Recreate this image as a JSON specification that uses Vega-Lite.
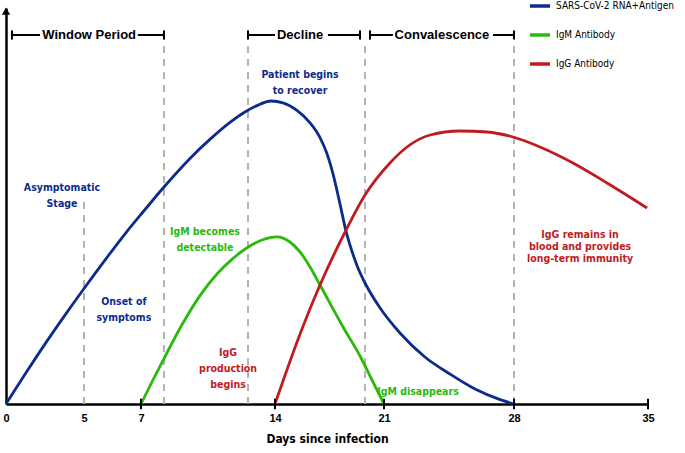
{
  "$schema": "https://vega.github.io/schema/vega-lite/v6.json",
  "width": 642,
  "height": 396,
  "autosize": {"type": "none"},
  "padding": {"left": 6, "top": 8, "right": 37, "bottom": 49},
  "background": "white",
  "config": {"view": {"stroke": null}},
  "datasets": {
    "curves": [
      {"series": "SARS-CoV-2 RNA+Antigen", "day": 0, "value": 0},
      {"series": "SARS-CoV-2 RNA+Antigen", "day": 1.28, "value": 7.8},
      {"series": "SARS-CoV-2 RNA+Antigen", "day": 2.56, "value": 15.35},
      {"series": "SARS-CoV-2 RNA+Antigen", "day": 3.85, "value": 22.6},
      {"series": "SARS-CoV-2 RNA+Antigen", "day": 5.04, "value": 29.25},
      {"series": "SARS-CoV-2 RNA+Antigen", "day": 5.77, "value": 36.3},
      {"series": "SARS-CoV-2 RNA+Antigen", "day": 6.47, "value": 42.8},
      {"series": "SARS-CoV-2 RNA+Antigen", "day": 7, "value": 47.4},
      {"series": "SARS-CoV-2 RNA+Antigen", "day": 8.2, "value": 54.25},
      {"series": "SARS-CoV-2 RNA+Antigen", "day": 9.56, "value": 61.4},
      {"series": "SARS-CoV-2 RNA+Antigen", "day": 10.6, "value": 66.15},
      {"series": "SARS-CoV-2 RNA+Antigen", "day": 11.65, "value": 70.4},
      {"series": "SARS-CoV-2 RNA+Antigen", "day": 12.43, "value": 73.0},
      {"series": "SARS-CoV-2 RNA+Antigen", "day": 13.06, "value": 74.6},
      {"series": "SARS-CoV-2 RNA+Antigen", "day": 13.79, "value": 75.75},
      {"series": "SARS-CoV-2 RNA+Antigen", "day": 14.51, "value": 75.3},
      {"series": "SARS-CoV-2 RNA+Antigen", "day": 15.41, "value": 73.4},
      {"series": "SARS-CoV-2 RNA+Antigen", "day": 16.25, "value": 70.3},
      {"series": "SARS-CoV-2 RNA+Antigen", "day": 16.89, "value": 66.6},
      {"series": "SARS-CoV-2 RNA+Antigen", "day": 17.34, "value": 62.55},
      {"series": "SARS-CoV-2 RNA+Antigen", "day": 17.72, "value": 57.6},
      {"series": "SARS-CoV-2 RNA+Antigen", "day": 18.17, "value": 50.1},
      {"series": "SARS-CoV-2 RNA+Antigen", "day": 18.56, "value": 43.2},
      {"series": "SARS-CoV-2 RNA+Antigen", "day": 18.94, "value": 38.2},
      {"series": "SARS-CoV-2 RNA+Antigen", "day": 19.33, "value": 34},
      {"series": "SARS-CoV-2 RNA+Antigen", "day": 19.78, "value": 30.25},
      {"series": "SARS-CoV-2 RNA+Antigen", "day": 20.75, "value": 24.0},
      {"series": "SARS-CoV-2 RNA+Antigen", "day": 21.86, "value": 17.75},
      {"series": "SARS-CoV-2 RNA+Antigen", "day": 23.2, "value": 11.75},
      {"series": "SARS-CoV-2 RNA+Antigen", "day": 24.55, "value": 7.5},
      {"series": "SARS-CoV-2 RNA+Antigen", "day": 25.9, "value": 3.75},
      {"series": "SARS-CoV-2 RNA+Antigen", "day": 27.25, "value": 1.1},
      {"series": "SARS-CoV-2 RNA+Antigen", "day": 28, "value": 0},
      {"series": "IgM Antibody", "day": 7, "value": 0},
      {"series": "IgM Antibody", "day": 7.57, "value": 5.5},
      {"series": "IgM Antibody", "day": 8.2, "value": 11.35},
      {"series": "IgM Antibody", "day": 9.14, "value": 19.8},
      {"series": "IgM Antibody", "day": 10.08, "value": 27.1},
      {"series": "IgM Antibody", "day": 10.97, "value": 32.5},
      {"series": "IgM Antibody", "day": 11.81, "value": 36.4},
      {"series": "IgM Antibody", "day": 12.54, "value": 39.05},
      {"series": "IgM Antibody", "day": 13.32, "value": 41.0},
      {"series": "IgM Antibody", "day": 14.13, "value": 41.8},
      {"series": "IgM Antibody", "day": 14.96, "value": 40.5},
      {"series": "IgM Antibody", "day": 15.61, "value": 38},
      {"series": "IgM Antibody", "day": 16.25, "value": 34.25},
      {"series": "IgM Antibody", "day": 16.89, "value": 29.75},
      {"series": "IgM Antibody", "day": 18.37, "value": 19.25},
      {"series": "IgM Antibody", "day": 19.46, "value": 12},
      {"series": "IgM Antibody", "day": 20.23, "value": 6},
      {"series": "IgM Antibody", "day": 21, "value": 0},
      {"series": "IgG Antibody", "day": 14, "value": 0},
      {"series": "IgG Antibody", "day": 15.61, "value": 17.5},
      {"series": "IgG Antibody", "day": 16.89, "value": 29.75},
      {"series": "IgG Antibody", "day": 18.5, "value": 43},
      {"series": "IgG Antibody", "day": 19.78, "value": 52.25},
      {"series": "IgG Antibody", "day": 21.32, "value": 60.25},
      {"series": "IgG Antibody", "day": 22.24, "value": 64.25},
      {"series": "IgG Antibody", "day": 23.48, "value": 67.25},
      {"series": "IgG Antibody", "day": 25.09, "value": 68.25},
      {"series": "IgG Antibody", "day": 26.55, "value": 68},
      {"series": "IgG Antibody", "day": 27.95, "value": 66.75},
      {"series": "IgG Antibody", "day": 29.36, "value": 64.25},
      {"series": "IgG Antibody", "day": 31.08, "value": 60.25},
      {"series": "IgG Antibody", "day": 32.86, "value": 55.25},
      {"series": "IgG Antibody", "day": 34.95, "value": 49}
    ],
    "vlines": [
      {"day": 5, "lo": 0, "hi": 51},
      {"day": 8.2, "lo": 0, "hi": 89.75},
      {"day": 12.59, "lo": 0, "hi": 89.75},
      {"day": 19.78, "lo": 0, "hi": 89.75},
      {"day": 28, "lo": 0, "hi": 89.75}
    ],
    "hsegs": [
      {"from": 0.38, "to": 2.18, "level": 92.25},
      {"from": 6.89, "to": 8.2, "level": 92.25},
      {"from": 12.59, "to": 14.0, "level": 92.25},
      {"from": 17.4, "to": 19.46, "level": 92.25},
      {"from": 20.1, "to": 21.48, "level": 92.25},
      {"from": 26.87, "to": 28, "level": 92.25}
    ],
    "bticks": [
      {"day": 0.38, "lo": 91.1, "hi": 93.4},
      {"day": 8.2, "lo": 91.1, "hi": 93.4},
      {"day": 12.59, "lo": 91.1, "hi": 93.4},
      {"day": 19.46, "lo": 91.1, "hi": 93.4},
      {"day": 20.1, "lo": 91.1, "hi": 93.4},
      {"day": 28, "lo": 91.1, "hi": 93.4},
      {"day": 7, "lo": -1.3, "hi": 1.3},
      {"day": 14, "lo": -1.3, "hi": 1.3},
      {"day": 21, "lo": -1.3, "hi": 1.3},
      {"day": 28, "lo": -1.3, "hi": 1.3},
      {"day": 35, "lo": -1.3, "hi": 1.3}
    ],
    "phases": [
      {"label": "Window Period", "day": 5.18, "value": 92.25},
      {"label": "Decline", "day": 15.61, "value": 92.25},
      {"label": "Convalescence", "day": 24.12, "value": 92.25}
    ],
    "notes": [
      {"label": "Patient begins\nto recover", "series": "SARS-CoV-2 RNA+Antigen", "day": 15.61, "value": 82.25},
      {"label": "Asymptomatic\nStage", "series": "SARS-CoV-2 RNA+Antigen", "day": 3.59, "value": 54},
      {"label": "Onset of\nsymptoms", "series": "SARS-CoV-2 RNA+Antigen", "day": 6.4, "value": 25.5},
      {"label": "IgM becomes\ndetectable", "series": "IgM Antibody", "day": 10.34, "value": 43},
      {"label": "IgG\nproduction\nbegins", "series": "IgG Antibody", "day": 11.55, "value": 12.75},
      {"label": "IgM disappears", "series": "IgM Antibody", "day": 22.83, "value": 3}
    ],
    "notes2": [
      {"label": "IgG remains in\nblood and provides\nlong-term immunity", "series": "IgG Antibody", "day": 31.45, "value": 42.25}
    ],
    "arrow": [{"day": 0, "value": 98.2}]
  },
  "layer": [
    {
      "data": {"name": "vlines"},
      "mark": {"type": "rule", "color": "#b3b3b3", "strokeWidth": 2, "strokeDash": [7, 6]},
      "encoding": {
        "x": {"field": "day", "type": "quantitative"},
        "y": {"field": "lo", "type": "quantitative"},
        "y2": {"field": "hi"}
      }
    },
    {
      "data": {"name": "curves"},
      "mark": {"type": "line", "interpolate": "monotone", "strokeWidth": 2.8},
      "encoding": {
        "x": {
          "field": "day",
          "type": "quantitative",
          "scale": {"domain": [0, 5, 7, 14, 21, 28, 35], "range": [0, 78, 135, 269, 378, 508, 642], "zero": false, "nice": false},
          "axis": {
            "values": [0, 5, 7, 14, 21, 28, 35],
            "title": "Days since infection",
            "grid": false,
            "ticks": false,
            "domainColor": "black",
            "domainWidth": 2.5,
            "labelFont": "Liberation Sans",
            "labelFontWeight": "bold",
            "labelFontSize": 11,
            "labelColor": "black",
            "labelPadding": 8,
            "labelFlush": false,
            "titleFont": "DejaVu Sans Condensed, Liberation Sans, sans-serif",
            "titleFontWeight": "bold",
            "titleFontSize": 12,
            "titleColor": "black",
            "titlePadding": 10
          }
        },
        "y": {
          "field": "value",
          "type": "quantitative",
          "scale": {"domain": [0, 99], "nice": false},
          "axis": {"title": null, "labels": false, "ticks": false, "grid": false, "domainColor": "black", "domainWidth": 2.5}
        },
        "color": {
          "field": "series",
          "type": "nominal",
          "scale": {
            "domain": ["SARS-CoV-2 RNA+Antigen", "IgM Antibody", "IgG Antibody"],
            "range": ["#0c2c8c", "#2cb80c", "#c01b1f"]
          },
          "legend": {
            "title": null,
            "orient": "none",
            "legendX": 522,
            "legendY": -14,
            "symbolType": "stroke",
            "symbolSize": 400,
            "symbolStrokeWidth": 3.5,
            "rowPadding": 10,
            "labelFont": "DejaVu Sans Condensed, Liberation Sans, sans-serif",
            "labelFontSize": 10,
            "labelColor": "black",
            "labelOffset": 4,
            "labelLimit": 300
          }
        }
      }
    },
    {
      "data": {"name": "hsegs"},
      "mark": {"type": "rule", "color": "black", "strokeWidth": 2},
      "encoding": {
        "x": {"field": "from", "type": "quantitative"},
        "x2": {"field": "to"},
        "y": {"field": "level", "type": "quantitative"}
      }
    },
    {
      "data": {"name": "bticks"},
      "mark": {"type": "rule", "color": "black", "strokeWidth": 2},
      "encoding": {
        "x": {"field": "day", "type": "quantitative"},
        "y": {"field": "lo", "type": "quantitative"},
        "y2": {"field": "hi"}
      }
    },
    {
      "data": {"name": "arrow"},
      "mark": {"type": "point", "shape": "triangle-up", "filled": true, "color": "black", "size": 70, "opacity": 1},
      "encoding": {
        "x": {"field": "day", "type": "quantitative"},
        "y": {"field": "value", "type": "quantitative"}
      }
    },
    {
      "data": {"name": "phases"},
      "mark": {"type": "text", "font": "Liberation Sans", "fontWeight": "bold", "fontSize": 13, "color": "black", "baseline": "middle", "align": "center"},
      "encoding": {
        "x": {"field": "day", "type": "quantitative"},
        "y": {"field": "value", "type": "quantitative"},
        "text": {"field": "label"}
      }
    },
    {
      "data": {"name": "notes"},
      "mark": {"type": "text", "font": "DejaVu Sans Condensed, Liberation Sans, sans-serif", "fontWeight": "bold", "fontSize": 10.5, "lineBreak": "\n", "lineHeight": 16, "baseline": "middle", "align": "center"},
      "encoding": {
        "x": {"field": "day", "type": "quantitative"},
        "y": {"field": "value", "type": "quantitative"},
        "text": {"field": "label"},
        "color": {"field": "series", "type": "nominal", "legend": null}
      }
    },
    {
      "data": {"name": "notes2"},
      "mark": {"type": "text", "font": "DejaVu Sans Condensed, Liberation Sans, sans-serif", "fontWeight": "bold", "fontSize": 10.5, "lineBreak": "\n", "lineHeight": 12, "baseline": "middle", "align": "center"},
      "encoding": {
        "x": {"field": "day", "type": "quantitative"},
        "y": {"field": "value", "type": "quantitative"},
        "text": {"field": "label"},
        "color": {"field": "series", "type": "nominal", "legend": null}
      }
    }
  ]
}
